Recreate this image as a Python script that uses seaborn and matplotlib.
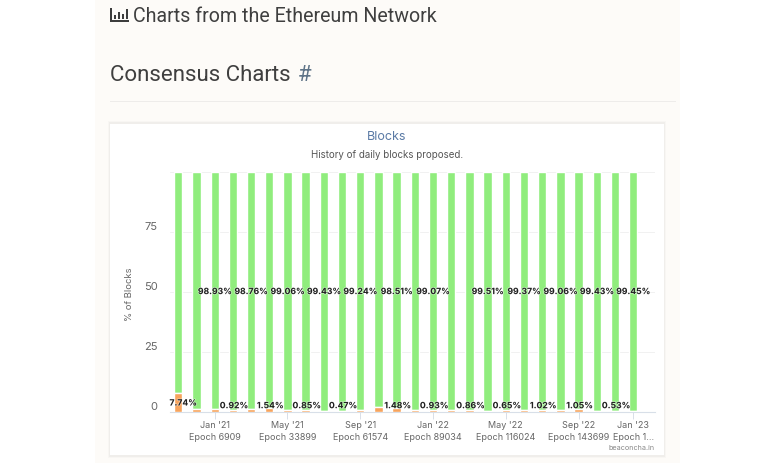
import matplotlib
matplotlib.use('Agg')
import matplotlib.pyplot as plt
import matplotlib.patheffects as pe
from matplotlib.patches import Rectangle
from matplotlib.transforms import ScaledTranslation
import pandas as pd
import seaborn as sns

# Values (unlabelled bars are estimates)
missed_pct = [7.74, 1.40, 1.07, 0.92, 1.24, 1.54, 0.94, 0.85, 0.57, 0.47, 0.76, 2.00, 1.48,
              0.70, 0.93, 0.80, 0.86, 0.49, 0.65, 0.63, 1.02, 0.94, 1.05, 0.57, 0.53, 0.55]
proposed_pct = [92.26, 98.60, 98.93, 99.08, 98.76, 98.46, 99.06, 99.15, 99.43, 99.53, 99.24, 98.00, 98.51,
                99.30, 99.07, 99.20, 99.14, 99.51, 99.35, 99.37, 98.98, 99.06, 98.95, 99.43, 99.47, 99.45]
missed_labelled = [0, 3, 5, 7, 9, 12, 14, 16, 18, 20, 22, 24]
proposed_labelled = [2, 4, 6, 8, 10, 12, 14, 17, 19, 21, 23, 25]
tick_bars = [2, 6, 10, 14, 18, 22, 25]
tick_labels = ["Jan '21\nEpoch 6909", "May '21\nEpoch 33899", "Sep '21\nEpoch 61574", "Jan '22\nEpoch 89034",
               "May '22\nEpoch 116024", "Sep '22\nEpoch 143699", "Jan '23\nEpoch 1..."]
y_ticks = [0, 25, 50, 75]

W, H = 768, 463
GREEN = '#90ed7d'
ORANGE = '#f7a35c'

sns.set_theme(style='white')
plt.rcParams['font.family'] = ['Inter', 'DejaVu Sans']

df = pd.DataFrame({'bar': range(len(missed_pct)), 'missed': missed_pct, 'proposed': proposed_pct})

fig = plt.figure(figsize=(W / 100, H / 100), dpi=100, facecolor='white')


# rectangle on the page, given in pixels from the top left
def page_rect(x0, y0, x1, y1, color, alpha=1.0, zorder=0):
    fig.add_artist(Rectangle((x0 / W, 1 - y1 / H), (x1 - x0) / W, (y1 - y0) / H, transform=fig.transFigure,
                             facecolor=color, edgecolor='none', alpha=alpha, zorder=zorder))


def page_text(x, y, s, **kw):
    fig.text(x / W, 1 - y / H, s, **kw)


# page background, rule and card with soft shadow
page_rect(95, 0, 680, H, '#fdfbf8')
page_rect(110, 101, 676, 102, '#eeecea')
page_rect(108, 121, 666, 458, '#000000', alpha=0.02, zorder=0.1)
page_rect(109, 122, 665, 456.5, '#000000', alpha=0.03, zorder=0.2)
page_rect(110, 123.5, 664, 455, 'white', zorder=0.3)

# chart-bar icon
page_rect(110, 8, 112, 22, '#3d3d3d', zorder=1)
page_rect(110, 20, 129, 22, '#3d3d3d', zorder=1)
for bx, by in [(114, 15), (118, 12), (122, 14), (126, 9)]:
    page_rect(bx, by, bx + 2, 19, '#3d3d3d', zorder=1)

page_text(133, 16, 'Charts from the Ethereum Network', family='Roboto', fontsize=14.1, color='#3f3f3f', va='center')
page_text(110, 75.5, 'Consensus Charts', family='Roboto', fontsize=16, color='#3f3f3f', va='center')
page_text(297.5, 75.5, '#', family='Roboto', fontsize=16, color='#5f7488', va='center')

page_text(387, 137.5, 'Blocks', fontsize=9, color='#5a7aa5', ha='center', va='center')
page_text(387, 155.5, 'History of daily blocks proposed.', fontsize=7, color='#555555', ha='center', va='center')

# axes placed so that 0 is at y=412 and 100 at y=172
ax = fig.add_axes([170 / W, 1 - 412 / H, (655 - 170) / W, 240 / H])
ax.patch.set_alpha(0)
ax.set_zorder(2)

sns.barplot(data=df, x='bar', y='proposed', bottom=df['missed'].values, color=GREEN, saturation=1,
            width=0.46, ax=ax, zorder=2)
sns.barplot(data=df, x='bar', y='missed', color=ORANGE, saturation=1, width=0.46, ax=ax, zorder=2)

ax.set_xlim(-0.456, 26.2)
ax.set_ylim(0, 100)
ax.set_yticks(y_ticks + [100], ['0', '25', '50', '75', ''])
ax.set_xticks(tick_bars, tick_labels, linespacing=1.45)
ax.set_xlabel('')
ax.set_ylabel('% of Blocks', fontsize=6.8, color='#666666')
ax.yaxis.set_label_coords(-36 / 485, 0.49)

ax.grid(axis='y', color='#f1f1f1', linewidth=0.7)
ax.set_axisbelow(True)
sns.despine(ax=ax, left=True, top=True, right=True)
ax.spines['bottom'].set_color('#d8dfe8')
ax.spines['bottom'].set_linewidth(0.8)
ax.spines['bottom'].set_zorder(1)
ax.tick_params(axis='x', length=5, width=0.7, color='#d8dfe8', labelsize=6.5, labelcolor='#666666', pad=1.5, bottom=True)
ax.tick_params(axis='y', length=0, labelsize=8, labelcolor='#666666', pad=9)

# y labels sit a little above their grid lines
shift = ScaledTranslation(0, 6 / 100, fig.dpi_scale_trans)
for lab in ax.get_yticklabels():
    lab.set_transform(lab.get_transform() + shift)

halo = [pe.withStroke(linewidth=1.0, foreground='white', alpha=0.5)]
for i in missed_labelled:
    dx = 5 if i == 0 else 1
    dy = 9 if i == 0 else 6.3
    ax.annotate(f'{missed_pct[i]:.2f}%', (i, 0), xytext=(dx * 0.72, dy * 0.72), textcoords='offset points',
                ha='center', va='center', fontsize=6.2, fontweight='bold', color='#222222', path_effects=halo, zorder=5)
for i in proposed_labelled:
    ax.annotate(f'{proposed_pct[i]:.2f}%', (i, 50), xytext=(0, 0.3), textcoords='offset points',
                ha='center', va='center', fontsize=6.2, fontweight='bold', color='#222222', path_effects=halo, zorder=5)

page_text(655, 447.5, 'beaconcha.in', fontsize=5.2, color='#888888', ha='right', va='center', zorder=3)

fig.savefig('out.png', dpi=100)
